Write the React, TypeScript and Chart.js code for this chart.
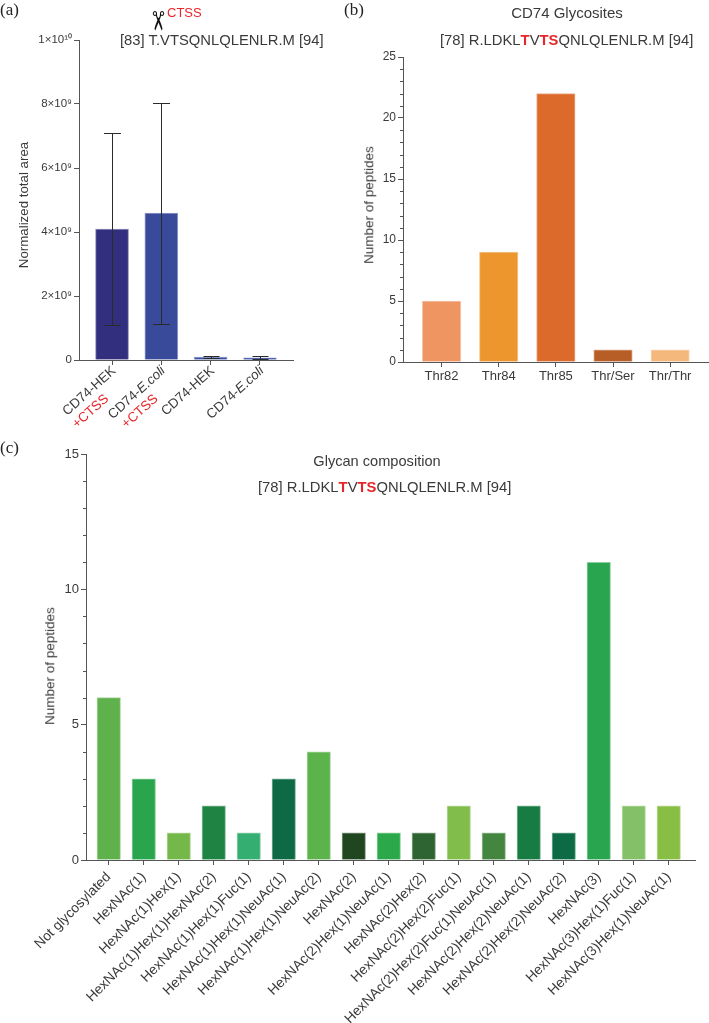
import React, { useEffect, useRef } from "react";
import { Chart, registerables } from "chart.js";

Chart.register(...registerables);

const SANS = "'Liberation Sans', Arial, sans-serif";
const INK = "#3a3a3a";
const AXIS = "#555555";

// Panel (a)
const catsA = ["CD74-HEK", "CD74-E.coli", "CD74-HEK", "CD74-E.coli"];
const catsA2 = ["+CTSS", "+CTSS", "", ""];
const valuesA = [4.09e9, 4.59e9, 0.09e9, 0.07e9];
const errHighA = [7.1e9, 8.04e9, 0.135e9, 0.125e9];
const errLowA = [1.09e9, 1.12e9, 0.05e9, 0.03e9];
const colorsA = ["#312f7e", "#3a4a9b", "#3b53a6", "#3a4fa3"];
const yTicksA = [0, 2e9, 4e9, 6e9, 8e9, 1e10];
const yLabelsA = ["0", "2×10⁹", "4×10⁹", "6×10⁹", "8×10⁹", "1×10¹⁰"];

// Panel (b)
const catsB = ["Thr82", "Thr84", "Thr85", "Thr/Ser", "Thr/Thr"];
const valuesB = [5, 9, 22, 1, 1];
const colorsB = ["#ef9562", "#ec962d", "#dc6a2b", "#b75e27", "#f5b87c"];
const minorB = [1, 2, 3, 4, 6, 7, 8, 9, 11, 12, 13, 14, 16, 17, 18, 19, 21, 22, 23, 24];

// Panel (c)
const catsC = [
  "Not glycosylated",
  "HexNAc(1)",
  "HexNAc(1)Hex(1)",
  "HexNAc(1)Hex(1)HexNAc(2)",
  "HexNAc(1)Hex(1)Fuc(1)",
  "HexNAc(1)Hex(1)NeuAc(1)",
  "HexNAc(1)Hex(1)NeuAc(2)",
  "HexNAc(2)",
  "HexNAc(2)Hex(1)NeuAc(1)",
  "HexNAc(2)Hex(2)",
  "HexNAc(2)Hex(2)Fuc(1)",
  "HexNAc(2)Hex(2)Fuc(1)NeuAc(1)",
  "HexNAc(2)Hex(2)NeuAc(1)",
  "HexNAc(2)Hex(2)NeuAc(2)",
  "HexNAc(3)",
  "HexNAc(3)Hex(1)Fuc(1)",
  "HexNAc(3)Hex(1)NeuAc(1)",
];
const valuesC = [6, 3, 1, 2, 1, 3, 4, 1, 1, 1, 2, 1, 2, 1, 11, 2, 2];
const colorsC = [
  "#5fb14c", "#29a64d", "#74b84a", "#1f8443", "#35ae72", "#0e6a45", "#5cb34c", "#20461f", "#2aa84a",
  "#2e6332", "#80bd4b", "#44853f", "#177c42", "#0c6a45", "#29a54f", "#84c067", "#88be44",
];
const minorC = [1, 2, 3, 4, 6, 7, 8, 9, 11, 12, 13, 14];

type Cfg = {
  labels: string[];
  values: number[];
  colors: string[];
  barPx: number;
  xMin: number;
  xMax: number;
  yMax: number;
  yStep: number;
  yCb: (v: number) => string;
  yWidth: number;
  top: number;
  right: number;
  xHeight: number;
  tickFontY: number;
  xCb: (v: number) => string;
  xFont: number;
  xRot: number;
  xPad: number;
  plugins: any[];
};

function minorPlugin(minor: number[]) {
  return {
    id: "minorTicks",
    afterDraw(chart: any) {
      const { ctx, scales } = chart;
      const y = scales.y;
      ctx.save();
      ctx.strokeStyle = AXIS;
      ctx.lineWidth = 1;
      minor.forEach((v) => {
        const p = Math.round(y.getPixelForValue(v)) + 0.5;
        ctx.beginPath();
        ctx.moveTo(chart.chartArea.left, p);
        ctx.lineTo(chart.chartArea.left - 3, p);
        ctx.stroke();
      });
      ctx.restore();
    },
  };
}

const errorBars = {
  id: "errorBars",
  afterDatasetsDraw(chart: any) {
    const { ctx, scales } = chart;
    ctx.save();
    ctx.strokeStyle = "#2b2b2b";
    ctx.lineWidth = 1;
    valuesA.forEach((_, i) => {
      const x = Math.round(scales.x.getPixelForValue(i)) + 0.5;
      const hi = Math.round(scales.y.getPixelForValue(errHighA[i])) + 0.5;
      const lo = Math.round(scales.y.getPixelForValue(errLowA[i])) + 0.5;
      const cap = i < 2 ? 8.5 : 8;
      ctx.beginPath();
      ctx.moveTo(x, hi);
      ctx.lineTo(x, lo);
      ctx.moveTo(x - cap, hi);
      ctx.lineTo(x + cap, hi);
      ctx.moveTo(x - cap, lo);
      ctx.lineTo(x + cap, lo);
      ctx.stroke();
    });
    ctx.restore();
  },
};

const labelsA = {
  id: "labelsA",
  afterDraw(chart: any) {
    const { ctx, scales, chartArea } = chart;
    ctx.save();
    catsA.forEach((label, i) => {
      const x = scales.x.getPixelForValue(i) + 2;
      const y = chartArea.bottom + 9;
      ctx.save();
      ctx.translate(x, y);
      ctx.rotate((-42 * Math.PI) / 180);
      ctx.textBaseline = "middle";
      ctx.textAlign = "left";
      const cut = label.indexOf("E.coli");
      const head = cut >= 0 ? label.slice(0, cut) : label;
      const tail = cut >= 0 ? label.slice(cut) : "";
      const plain = `13.4px ${SANS}`;
      const ital = `italic 13.4px ${SANS}`;
      ctx.font = plain;
      const w1 = ctx.measureText(head).width;
      ctx.font = ital;
      const w2 = tail ? ctx.measureText(tail).width : 0;
      ctx.fillStyle = INK;
      ctx.font = plain;
      ctx.fillText(head, -(w1 + w2), 0);
      if (tail) {
        ctx.font = ital;
        ctx.fillText(tail, -w2, 0);
      }
      if (catsA2[i]) {
        ctx.font = plain;
        ctx.fillStyle = "#e8262a";
        ctx.textAlign = "right";
        ctx.fillText(catsA2[i], -24, 16);
      }
      ctx.restore();
    });
    ctx.restore();
  },
};

function makeChart(canvas: HTMLCanvasElement, c: Cfg) {
  const idx = c.values.map((_, i) => i);
  return new Chart(canvas, {
    type: "bar",
    data: {
      labels: c.labels,
      datasets: [
        {
          data: c.values.map((v, i) => ({ x: i, y: v })) as any,
          backgroundColor: c.colors,
          borderColor: c.colors.map((h) => h + "88"),
          barThickness: c.barPx,
          borderWidth: { top: 1, left: 1, right: 1, bottom: 0 },
        },
      ],
    },
    options: {
      responsive: false,
      animation: false,
      layout: { padding: { top: c.top, right: c.right, left: 0, bottom: 0 } },
      plugins: { legend: { display: false }, tooltip: { enabled: false } },
      scales: {
        x: {
          type: "linear",
          offset: false,
          bounds: "data",
          min: c.xMin,
          max: c.xMax,
          grid: {
            offset: false,
            drawOnChartArea: false,
            color: AXIS,
            tickLength: 5,
          },
          border: { color: AXIS, width: 1 },
          ticks: {
            autoSkip: false,
            stepSize: 1,
            minRotation: c.xRot,
            maxRotation: c.xRot,
            color: INK,
            padding: c.xPad,
            font: { family: SANS, size: c.xFont },
            callback: (v: any) => c.xCb(Number(v)),
          },
          afterBuildTicks: (s: any) => {
            s.ticks = idx.map((v) => ({ value: v }));
          },
          afterFit: (s: any) => {
            s.height = c.xHeight;
            s.paddingLeft = 0;
            s.paddingRight = 0;
          },
        },
        y: {
          type: "linear",
          min: 0,
          max: c.yMax,
          grid: { drawOnChartArea: false, color: AXIS, tickLength: 5 },
          border: { color: AXIS, width: 1 },
          ticks: {
            stepSize: c.yStep,
            color: INK,
            padding: 2,
            font: { family: SANS, size: c.tickFontY },
            callback: (v: any) => c.yCb(Number(v)),
          },
          afterFit: (s: any) => {
            s.width = c.yWidth;
            s.paddingTop = 0;
            s.paddingBottom = 0;
          },
        },
      },
    },
    plugins: c.plugins,
  } as any);
}

const T: React.FC<{
  x: number;
  y: number;
  size: number;
  center?: boolean;
  vertical?: boolean;
  serif?: boolean;
  children: React.ReactNode;
  color?: string;
}> = ({ x, y, size, center, vertical, serif, children, color }) => (
  <span
    style={{
      position: "absolute",
      left: x,
      top: y,
      fontFamily: serif ? "'Liberation Serif', serif" : SANS,
      fontSize: size,
      lineHeight: 1,
      whiteSpace: "nowrap",
      color: color || INK,
      transform: vertical
        ? "translate(-50%,-50%) rotate(-90deg)"
        : center
        ? "translate(-50%,-50%)"
        : "translateY(-50%)",
    }}
  >
    {children}
  </span>
);

const R: React.FC<{ children: React.ReactNode }> = ({ children }) => (
  <b style={{ color: "#e8262a" }}>{children}</b>
);

const Peptide = () => (
  <>
    [78] R.LDKL<R>T</R>V<R>TS</R>QNLQLENLR.M [94]
  </>
);

export default function App() {
  const a = useRef<HTMLCanvasElement>(null);
  const b = useRef<HTMLCanvasElement>(null);
  const c = useRef<HTMLCanvasElement>(null);

  useEffect(() => {
    const charts = [
      makeChart(a.current!, {
        labels: catsA,
        values: valuesA,
        colors: colorsA,
        barPx: 33,
        xMin: -0.67,
        xMax: 3.67,
        yMax: 1e10,
        yStep: 2e9,
        yCb: (v) => yLabelsA[yTicksA.indexOf(v)] ?? "",
        yWidth: 79,
        top: 40,
        right: 47,
        xHeight: 80,
        tickFontY: 11.5,
        xCb: () => "",
        xFont: 14,
        xRot: 0,
        xPad: 0,
        plugins: [errorBars, labelsA],
      }),
      makeChart(b.current!, {
        labels: catsB,
        values: valuesB,
        colors: colorsB,
        barPx: 38.5,
        xMin: -0.675,
        xMax: 4.68,
        yMax: 25,
        yStep: 5,
        yCb: (v) => String(v),
        yWidth: 63,
        top: 57,
        right: 0,
        xHeight: 78,
        tickFontY: 12,
        xCb: (v) => catsB[v] ?? "",
        xFont: 13,
        xRot: 0,
        xPad: 2,
        plugins: [minorPlugin(minorB)],
      }),
      makeChart(c.current!, {
        labels: catsC,
        values: valuesC,
        colors: colorsC,
        barPx: 23.5,
        xMin: -0.65,
        xMax: 16.75,
        yMax: 15,
        yStep: 5,
        yCb: (v) => String(v),
        yWidth: 86,
        top: 14,
        right: 14,
        xHeight: 163,
        tickFontY: 13,
        xCb: (v) => catsC[v] ?? "",
        xFont: 13.8,
        xRot: 45,
        xPad: 4,
        plugins: [minorPlugin(minorC)],
      }),
    ];
    return () => charts.forEach((ch) => ch.destroy());
  }, []);

  const abs: React.CSSProperties = { position: "absolute", display: "block" };
  return (
    <div style={{ position: "absolute", left: 0, top: 0, width: 709, height: 1023, overflow: "hidden", background: "#fff" }}>
      <canvas ref={a} width={340} height={440} style={{ ...abs, left: 0, top: 0 }} />
      <canvas ref={b} width={369} height={440} style={{ ...abs, left: 340, top: 0 }} />
      <canvas ref={c} width={709} height={583} style={{ ...abs, left: 0, top: 440 }} />

      <T x={0} y={9} size={17} serif color="#222">(a)</T>
      <T x={344} y={9} size={17} serif color="#222">(b)</T>
      <T x={0} y={447} size={17} serif color="#222">(c)</T>

      <span
        style={{
          position: "absolute",
          left: 158,
          top: 21,
          fontFamily: "'DejaVu Sans'",
          fontSize: 26,
          lineHeight: 1,
          color: "#111",
          transform: "translate(-50%,-50%) rotate(90deg)",
        }}
      >
        ✂
      </span>
      <T x={167} y={12} size={13} color="#e8262a">CTSS</T>
      <T x={120} y={40} size={14.8}>[83] T.VTSQNLQLENLR.M [94]</T>

      <T x={567} y={12} size={15} center>CD74 Glycosites</T>
      <T x={440} y={40} size={14.8}><Peptide /></T>

      <T x={377} y={461} size={14.6} center>Glycan composition</T>
      <T x={258} y={487} size={14.8}><Peptide /></T>

      <T x={24} y={205} size={13.3} vertical>Normalized total area</T>
      <T x={369} y={205} size={13.5} vertical>Number of peptides</T>
      <T x={50} y={666} size={13.5} vertical>Number of peptides</T>
    </div>
  );
}
